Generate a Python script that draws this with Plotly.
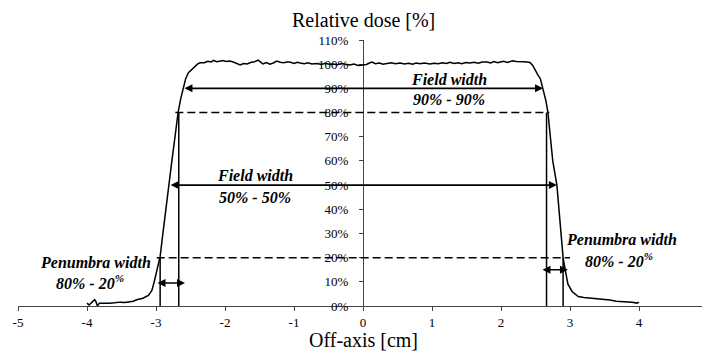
import plotly.graph_objects as go

# ---- data ----
profile_x = [-4.00, -3.97, -3.93, -3.89, -3.87, -3.85, -3.82, -3.75, -3.67, -3.60, -3.52, -3.45,
             -3.38, -3.33, -3.28, -3.19, -3.11, -3.06, -3.03, -3.00, -2.97, -2.94, -2.90, -2.86,
             -2.82, -2.77, -2.72, -2.68, -2.64, -2.61, -2.57, -2.53, -2.46, -2.40, -2.36, -2.30,
             -2.25, -2.20, -2.17, -2.12, -2.08, -2.03, -1.98, -1.93, -1.88, -1.83, -1.78, -1.73,
             -1.68, -1.62, -1.57, -1.52, -1.48, -1.45, -1.40, -1.35, -1.30, -1.25, -1.20, -1.15,
             -1.10, -1.06, -1.00, -0.95, -0.91, -0.85, -0.80, -0.74, -0.67, -0.60, -0.55, -0.49,
             -0.43, -0.37, -0.31, -0.25, -0.19, -0.13, -0.07, 0.00, 0.05, 0.10, 0.13, 0.18,
             0.24, 0.29, 0.35, 0.41, 0.47, 0.54, 0.60, 0.66, 0.72, 0.77, 0.83, 0.89,
             0.97, 1.03, 1.09, 1.15, 1.21, 1.26, 1.32, 1.38, 1.43, 1.49, 1.55, 1.61,
             1.67, 1.73, 1.80, 1.85, 1.90, 1.95, 1.99, 2.04, 2.09, 2.13, 2.17, 2.22,
             2.28, 2.33, 2.38, 2.42, 2.46, 2.49, 2.53, 2.57, 2.61, 2.65, 2.68, 2.72,
             2.75, 2.81, 2.86, 2.90, 2.93, 2.97, 3.03, 3.08, 3.12, 3.20, 3.29, 3.40,
             3.50, 3.58, 3.67, 3.75, 3.83, 3.90, 3.97, 4.00]
profile_y = [1.2, 0.4, 1.5, 2.6, 1.8, 0.1, 1.1, 1.0, 1.1, 1.3, 1.6, 1.4,
             1.7, 2.0, 2.6, 3.2, 4.4, 6.4, 9.5, 13.5, 17.5, 20.5, 30.0, 40.0,
             50.0, 60.0, 71.0, 80.0, 86.0, 90.0, 94.0, 96.5, 98.6, 100.0, 100.6, 100.6,
             101.2, 100.9, 101.6, 101.0, 101.2, 101.5, 101.1, 101.3, 100.9, 100.2, 99.7, 100.3,
             100.1, 100.8, 101.0, 101.7, 100.6, 100.1, 100.7, 100.0, 100.5, 101.3, 100.8, 100.6,
             100.9, 100.9, 100.3, 100.8, 100.5, 100.2, 100.6, 100.1, 100.3, 99.9, 100.4, 100.0,
             100.1, 99.8, 100.3, 99.9, 99.7, 100.1, 99.5, 99.7, 99.9, 100.6, 100.9, 100.2,
             100.5, 100.0, 100.3, 100.6, 100.2, 100.5, 100.1, 100.4, 100.0, 100.5, 100.2, 100.5,
             100.1, 100.4, 100.2, 100.6, 100.3, 100.8, 100.3, 100.6, 100.2, 100.7, 100.5, 100.8,
             100.4, 100.9, 100.9, 100.5, 101.1, 100.6, 100.9, 101.2, 100.7, 101.0, 101.4, 101.1,
             100.9, 101.0, 100.9, 100.7, 99.5, 97.6, 95.8, 94.0, 90.0, 85.0, 80.0, 70.0,
             60.0, 50.0, 34.0, 20.0, 15.0, 9.0, 6.0, 4.6, 3.9, 3.5, 3.3, 2.9,
             2.7, 2.5, 2.0, 1.9, 1.6, 1.5, 1.2, 1.6]

x_ticks = [-5, -4, -3, -2, -1, 0, 1, 2, 3, 4, 5]
y_ticks = [0, 10, 20, 30, 40, 50, 60, 70, 80, 90, 100, 110]

# field-width arrows (solid, double headed)
field90_x = [-2.61, 2.61]
field90_level = 90
field50_x = [-2.81, 2.81]
field50_level = 50
# dashed reference lines
dash80_x = [-2.72, 2.70]
dash80_level = 80
dash20_x = [-2.99, 3.00]
dash20_level = 20
# vertical drop lines
vert80_x = [-2.67, 2.66]
vert20_x = [-2.94, 2.90]
# penumbra arrows
pen_left_x = [-3.00, -2.58]
pen_left_level = 9.5
pen_right_x = [2.58, 2.97]
pen_right_level = 15

# text labels: (x, y, text)
labels = [
    (1.25, 93.5, "Field width"),
    (1.25, 85.2, "90% - 90%"),
    (-1.56, 53.8, "Field width"),
    (-1.56, 44.7, "50% - 50%"),
    (-3.88, 17.8, "Penumbra width"),
    (-3.96, 9.9, "80% - 20<sup>%</sup>"),
    (3.75, 27.3, "Penumbra width"),
    (3.71, 19.0, "80% - 20<sup>%</sup>"),
]

SERIF = "Liberation Serif, Times New Roman, Times, DejaVu Serif, serif"

fig = go.Figure()

# dashed lines
for xs, lv in [(dash80_x, dash80_level), (dash20_x, dash20_level)]:
    fig.add_trace(go.Scatter(x=xs, y=[lv, lv], mode="lines",
                             line=dict(color="black", width=1.5, dash="8px,4px"),
                             hoverinfo="skip", showlegend=False))
# vertical lines
for xv in vert80_x:
    fig.add_trace(go.Scatter(x=[xv, xv], y=[0, dash80_level], mode="lines",
                             line=dict(color="black", width=1.5),
                             hoverinfo="skip", showlegend=False))
for xv in vert20_x:
    fig.add_trace(go.Scatter(x=[xv, xv], y=[0, dash20_level], mode="lines",
                             line=dict(color="black", width=1.5),
                             hoverinfo="skip", showlegend=False))

# profile
fig.add_trace(go.Scatter(x=profile_x, y=profile_y, mode="lines",
                         line=dict(color="black", width=1.5),
                         hoverinfo="skip", showlegend=False))

# arrows
def arrow(xs, lv, width=1.6):
    fig.add_annotation(x=xs[1], y=lv, ax=xs[0], ay=lv, xref="x", yref="y",
                       axref="x", ayref="y", text="", showarrow=True,
                       arrowhead=2, arrowside="end+start", arrowsize=1,
                       arrowwidth=width, arrowcolor="black", standoff=0, startstandoff=0)

arrow(field90_x, field90_level)
arrow(field50_x, field50_level)
arrow(pen_left_x, pen_left_level)
arrow(pen_right_x, pen_right_level)

for lx, ly, txt in labels:
    fig.add_annotation(x=lx, y=ly, xref="x", yref="y", text="<b><i>" + txt + "</i></b>",
                       showarrow=False, font=dict(family=SERIF, size=16, color="black"),
                       xanchor="center", yanchor="middle")

# axis titles
fig.add_annotation(x=0, y=1.075, xref="x", yref="paper", text="Relative dose [%]",
                   showarrow=False, font=dict(family=SERIF, size=20, color="black"),
                   xanchor="center", yanchor="middle")
fig.add_annotation(x=0, y=-0.128, xref="x", yref="paper", text="Off-axis [cm]",
                   showarrow=False, font=dict(family=SERIF, size=20, color="black"),
                   xanchor="center", yanchor="middle")

# the page body has an 8px margin, so size the figure to the visible area
fig.update_layout(
    width=702, height=346,
    margin=dict(l=10, r=2, t=32, b=48, autoexpand=False),
    paper_bgcolor="white", plot_bgcolor="white",
    font=dict(family=SERIF, size=13, color="black"),
    xaxis=dict(range=[-5, 5], tickvals=x_ticks, ticktext=[str(v) for v in x_ticks],
               showline=True, linecolor="#444", linewidth=1, ticks="outside", ticklen=4,
               tickcolor="#444", showgrid=False, zeroline=False, layer="below traces",
               automargin=False,
               tickfont=dict(family=SERIF, size=13, color="black")),
    yaxis=dict(range=[0, 110], tickvals=y_ticks, ticktext=[f"{v}%" for v in y_ticks],
               anchor="free", position=0.5, showline=True, linecolor="#444", linewidth=1,
               ticks="outside", ticklen=4, tickcolor="#444", showgrid=False, zeroline=False,
               layer="below traces", ticklabelstandoff=8, automargin=False,
               tickfont=dict(family=SERIF, size=13, color="black")),
)

fig.write_html("out.html", config={"displayModeBar": False})
